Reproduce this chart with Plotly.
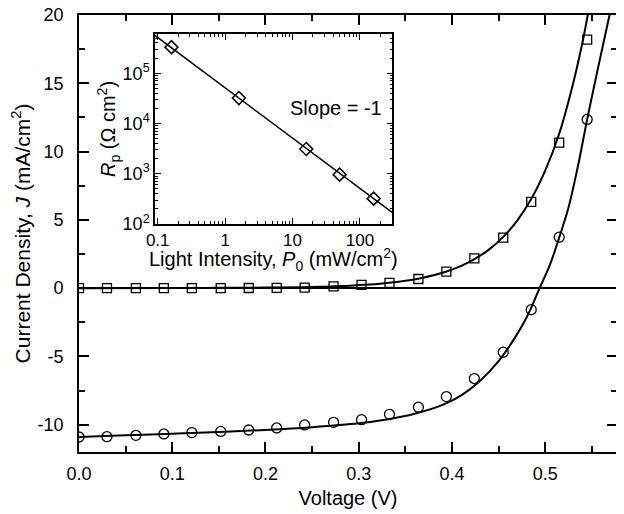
import plotly.graph_objects as go

# ---- main J-V data (markers) ----
V_meas = [0.000, 0.030, 0.061, 0.091, 0.121, 0.152, 0.182, 0.212, 0.242, 0.273,
          0.303, 0.333, 0.364, 0.394, 0.424, 0.455, 0.485, 0.515, 0.545]
J_dark = [0.0, 0.0, 0.0, 0.0, 0.0, 0.0, 0.01, 0.02, 0.04, 0.13,
          0.24, 0.38, 0.67, 1.21, 2.18, 3.7, 6.32, 10.66, 18.2]
J_light = [-10.9, -10.88, -10.78, -10.68, -10.58, -10.49, -10.39, -10.24, -10.02, -9.83,
           -9.63, -9.24, -8.72, -7.94, -6.62, -4.69, -1.58, 3.73, 12.35]

# ---- fitted curves ----
V_fit_dark = [0.0, 0.10, 0.15, 0.20, 0.24, 0.26, 0.275, 0.29, 0.305, 0.32, 0.335, 0.35,
              0.365, 0.38, 0.395, 0.41, 0.425, 0.44, 0.455, 0.47, 0.485, 0.50, 0.515,
              0.53, 0.54, 0.547]
J_fit_dark = [0.0, 0.01, 0.02, 0.04, 0.07, 0.10, 0.14, 0.18, 0.24, 0.31, 0.41, 0.54,
              0.71, 0.94, 1.24, 1.63, 2.16, 2.84, 3.75, 4.95, 6.52, 8.6, 11.3,
              15.0, 18.0, 20.5]
V_fit_light = [0.0, 0.05, 0.10, 0.15, 0.20, 0.25, 0.30, 0.33, 0.36, 0.39, 0.41, 0.43,
               0.45, 0.465, 0.48, 0.494, 0.505, 0.515, 0.525, 0.535, 0.545, 0.555,
               0.562, 0.569, 0.572]
J_fit_light = [-10.9, -10.78, -10.66, -10.53, -10.38, -10.18, -9.9, -9.62, -9.2, -8.55,
               -7.85, -6.8, -5.35, -3.9, -2.15, 0.0, 1.7, 3.7, 5.9, 8.9, 12.35, 15.6,
               17.8, 20.0, 21.0]

# ---- inset data ----
P0 = [0.16, 1.6, 16, 50, 160]
Rp = [3.3e5, 3.2e4, 3.1e3, 960, 320]
P0_fit = [0.09, 300]
Rp_fit = [5.7e5, 171]

x_ticks = [0.0, 0.1, 0.2, 0.3, 0.4, 0.5]
y_ticks = [-10, -5, 0, 5, 10, 15, 20]
y_ticktext = ["-10", "-5", "0", "5", "10", "15", "20"]
ix_ticks = [0.1, 1, 10, 100]
ix_text = ["0.1", "1", "10", "100"]
ix_minor = [0.2, 0.3, 0.4, 0.5, 0.6, 0.7, 0.8, 0.9, 2, 3, 4, 5, 6, 7, 8, 9,
            20, 30, 40, 50, 60, 70, 80, 90, 200, 300]
iy_ticks = [1e2, 1e3, 1e4, 1e5]
iy_text = ["10<sup>2</sup>", "10<sup>3</sup>", "10<sup>4</sup>", "10<sup>5</sup>"]
iy_minor = [m * d for d in (1e2, 1e3, 1e4, 1e5) for m in (2, 3, 4, 5, 6, 7, 8, 9)]

FONT = "Liberation Sans, Arial, sans-serif"

fig = go.Figure()

fig.add_trace(go.Scatter(x=V_fit_dark, y=J_fit_dark, mode="lines", line=dict(color="black", width=2, shape="spline"),
                         showlegend=False, xaxis="x", yaxis="y"))
fig.add_trace(go.Scatter(x=V_fit_light, y=J_fit_light, mode="lines", line=dict(color="black", width=2, shape="spline"),
                         showlegend=False, xaxis="x", yaxis="y"))
fig.add_trace(go.Scatter(x=V_meas, y=J_dark, mode="markers",
                         marker=dict(symbol="square-open", size=9, color="black", line=dict(width=1.3)),
                         showlegend=False, xaxis="x", yaxis="y"))
fig.add_trace(go.Scatter(x=V_meas, y=J_light, mode="markers",
                         marker=dict(symbol="circle-open", size=10, color="black", line=dict(width=1.3)),
                         showlegend=False, xaxis="x", yaxis="y"))

# inset
fig.add_trace(go.Scatter(x=P0_fit, y=Rp_fit, mode="lines", line=dict(color="black", width=1.5),
                         showlegend=False, xaxis="x2", yaxis="y2"))
fig.add_trace(go.Scatter(x=P0, y=Rp, mode="markers",
                         marker=dict(symbol="diamond-open", size=10, color="black", line=dict(width=1.5)),
                         showlegend=False, xaxis="x2", yaxis="y2"))

axis_common = dict(showline=True, linecolor="black", linewidth=1.8, mirror="ticks",
                   ticks="inside", tickcolor="black", showgrid=False, automargin=False,
                   ticklabeloverflow="allow",
                   tickfont=dict(family=FONT, size=18, color="black"))

fig.update_layout(
    width=616, height=506,
    margin=dict(l=71, r=7, t=7, b=62),
    paper_bgcolor="white", plot_bgcolor="white",
    font=dict(family=FONT, color="black"),
    xaxis=dict(axis_common, range=[0, 0.577], tickvals=x_ticks, ticktext=[f"{v:.1f}" for v in x_ticks],
               ticklen=10, tickwidth=1.8, zeroline=False, ticklabelstandoff=4,
               minor=dict(ticks="inside", dtick=0.05, ticklen=6, tickwidth=1.5, tickcolor="black", showgrid=False),
               title=dict(text="Voltage (V)", font=dict(family=FONT, size=20, color="black"), standoff=8),
               domain=[0, 1]),
    yaxis=dict(axis_common, range=[-12, 20], tickvals=y_ticks, ticktext=y_ticktext,
               ticklen=10, tickwidth=1.8, zeroline=True, zerolinecolor="black", zerolinewidth=2,
               ticklabelstandoff=10,
               minor=dict(ticks="inside", dtick=2.5, ticklen=6, tickwidth=1.5, tickcolor="black", showgrid=False),
               title=dict(text="Current Density, <i>J</i> (mA/cm<sup>2</sup>)",
                          font=dict(family=FONT, size=21, color="black"), standoff=4),
               domain=[0, 1]),
    xaxis2=dict(axis_common, type="log", range=[-1.04, 2.48], tickvals=ix_ticks, ticktext=ix_text,
                ticklen=6, tickwidth=1.2, linewidth=1.5, ticklabelstandoff=0,
                tickfont=dict(family=FONT, size=17, color="black"),
                minor=dict(ticks="inside", tickmode="array", tickvals=ix_minor, ticklen=3, tickwidth=1,
                           tickcolor="black", showgrid=False),
                anchor="y2", domain=[0.1413, 0.5823]),
    yaxis2=dict(axis_common, type="log", range=[2, 5.78], tickvals=iy_ticks, ticktext=iy_text,
                ticklen=6, tickwidth=1.2, linewidth=1.5, ticklabelstandoff=0,
                minor=dict(ticks="inside", tickmode="array", tickvals=iy_minor, ticklen=3, tickwidth=1,
                           tickcolor="black", showgrid=False),
                anchor="x2", domain=[0.5217, 0.9565]),
)

fig.add_annotation(x=0.361, y=0.44, xref="paper", yref="paper", xanchor="center", yanchor="middle",
                   text="Light Intensity, <i>P</i><sub>0</sub> (mW/cm<sup>2</sup>)", showarrow=False,
                   font=dict(family=FONT, size=20, color="black"))
fig.add_annotation(x=0.0539, y=0.739, xref="paper", yref="paper", xanchor="center", yanchor="middle",
                   text="<i>R</i><sub>p</sub> (Ω cm<sup>2</sup>)", showarrow=False, textangle=-90,
                   font=dict(family=FONT, size=20, color="black"))
fig.add_annotation(x=1.64, y=4.3, xref="x2", yref="y2", text="Slope = -1", showarrow=False,
                   font=dict(family=FONT, size=20, color="black"))

fig.write_html("out.html")
